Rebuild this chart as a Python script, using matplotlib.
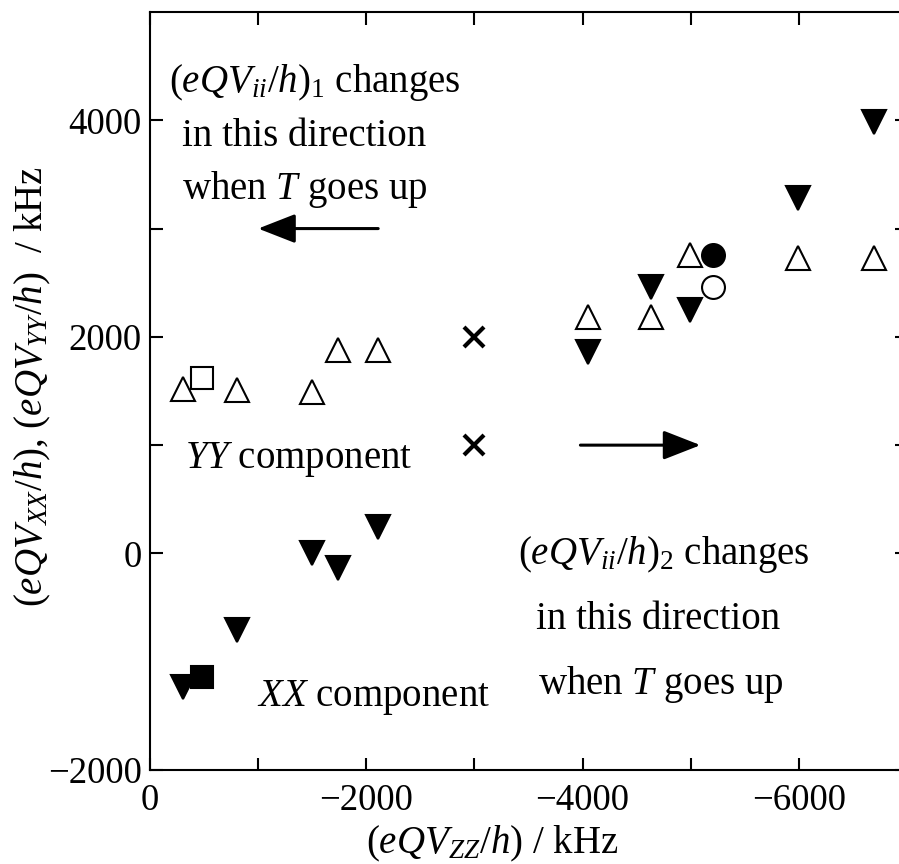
import matplotlib
matplotlib.use("Agg")
import matplotlib.pyplot as plt

# temperature series, shared x (eQV_ZZ/h, kHz)
zz = [-305, -804, -1497, -1738, -2107, -4048, -4630, -4990, -5989, -6691]
yy = [1520, 1510, 1490, 1875, 1875, 2180, 2180, 2753, 2725, 2725]
xx = [-1235, -711, 0, -139, 240, 1857, 2457, 2245, 3280, 3982]

# square points
sq_zz = [-480]
sq_yy = [1616]
sq_xx = [-1145]

# circle points
ci_zz = [-5203]
ci_yy = [2457]
ci_xx = [2753]

# cross points
cr_zz = [-3000, -3000]
cr_v = [2000, 1000]

plt.rcParams['font.family'] = ['Liberation Serif', 'DejaVu Serif']
plt.rcParams['mathtext.fontset'] = 'custom'
plt.rcParams['mathtext.rm'] = 'Liberation Serif'
plt.rcParams['mathtext.it'] = 'Liberation Serif:italic'

fig = plt.figure(figsize=(8.99, 8.64), dpi=100)
ax = fig.add_axes([150 / 899, 94 / 864, 757 / 899, 758 / 864])

ms = 17.5
ax.plot(zz, yy, linestyle='none', marker='^', ms=ms, mfc='white', mec='black', mew=1.5)
ax.plot(zz, xx, linestyle='none', marker='v', ms=ms, mfc='black', mec='black', mew=1.5)
ax.plot(sq_zz, sq_yy, linestyle='none', marker='s', ms=16, mfc='white', mec='black', mew=1.5)
ax.plot(sq_zz, sq_xx, linestyle='none', marker='s', ms=16, mfc='black', mec='black', mew=1.5)
ax.plot(ci_zz, ci_yy, linestyle='none', marker='o', ms=16.5, mfc='white', mec='black', mew=1.5)
ax.plot(ci_zz, ci_xx, linestyle='none', marker='o', ms=16.5, mfc='black', mec='black', mew=1.5)
ax.plot(cr_zz, cr_v, linestyle='none', marker='x', ms=14, mec='black', mew=3)

ax.set_xlim(0, -7000)
ax.set_ylim(-2000, 5000)
ax.set_xticks([0, -2000, -4000, -6000])
ax.set_xticks([-1000, -3000, -5000], minor=True)
ax.set_yticks([-2000, 0, 2000, 4000])
ax.set_yticks([1000, 3000], minor=True)
ax.tick_params(which='both', direction='in', length=9, width=1.5,
               top=True, right=True, labelsize=26.5)
ax.tick_params(axis='x', pad=10)
ax.tick_params(axis='y', pad=6)
for s in ax.spines.values():
    s.set_linewidth(1.5)

# arrows
arr = dict(arrowstyle='-|>,head_length=1.15,head_width=0.45', lw=2.2,
           color='black', mutation_scale=20, shrinkA=0, shrinkB=0)
ax.annotate('', xy=(-1000, 3000), xytext=(-2110, 3000), arrowprops=arr)
ax.annotate('', xy=(-5090, 1000), xytext=(-3980, 1000), arrowprops=arr)

fs = 28
ax.text(-180, 4260, r'$(eQV_{ii}/h)_1$ changes', fontsize=fs, va='baseline')
ax.text(-300, 3765, 'in this direction', fontsize=fs, va='baseline')
ax.text(-300, 3275, r'when $T$ goes up', fontsize=fs, va='baseline')

ax.text(-3400, -95, r'$(eQV_{ii}/h)_2$ changes', fontsize=fs, va='baseline')
ax.text(-3570, -695, 'in this direction', fontsize=fs, va='baseline')
ax.text(-3590, -1295, r'when $T$ goes up', fontsize=fs, va='baseline')

ax.text(-325, 790, r'$YY$ component', fontsize=fs, va='baseline')
ax.text(-990, -1405, r'$XX$ component', fontsize=fs, va='baseline')

fig.text(492 / 899, 1 - 853 / 864, r'$(eQV_{ZZ}/h)$ / kHz', fontsize=28,
         ha='center', va='baseline')
fig.text(33 / 899, 1 - 387 / 864, r'$(eQV_{XX}/h)$, $(eQV_{YY}/h)$  / kHz', fontsize=28,
         rotation=90, ha='center', va='center')

fig.savefig('out.png', dpi=100)
